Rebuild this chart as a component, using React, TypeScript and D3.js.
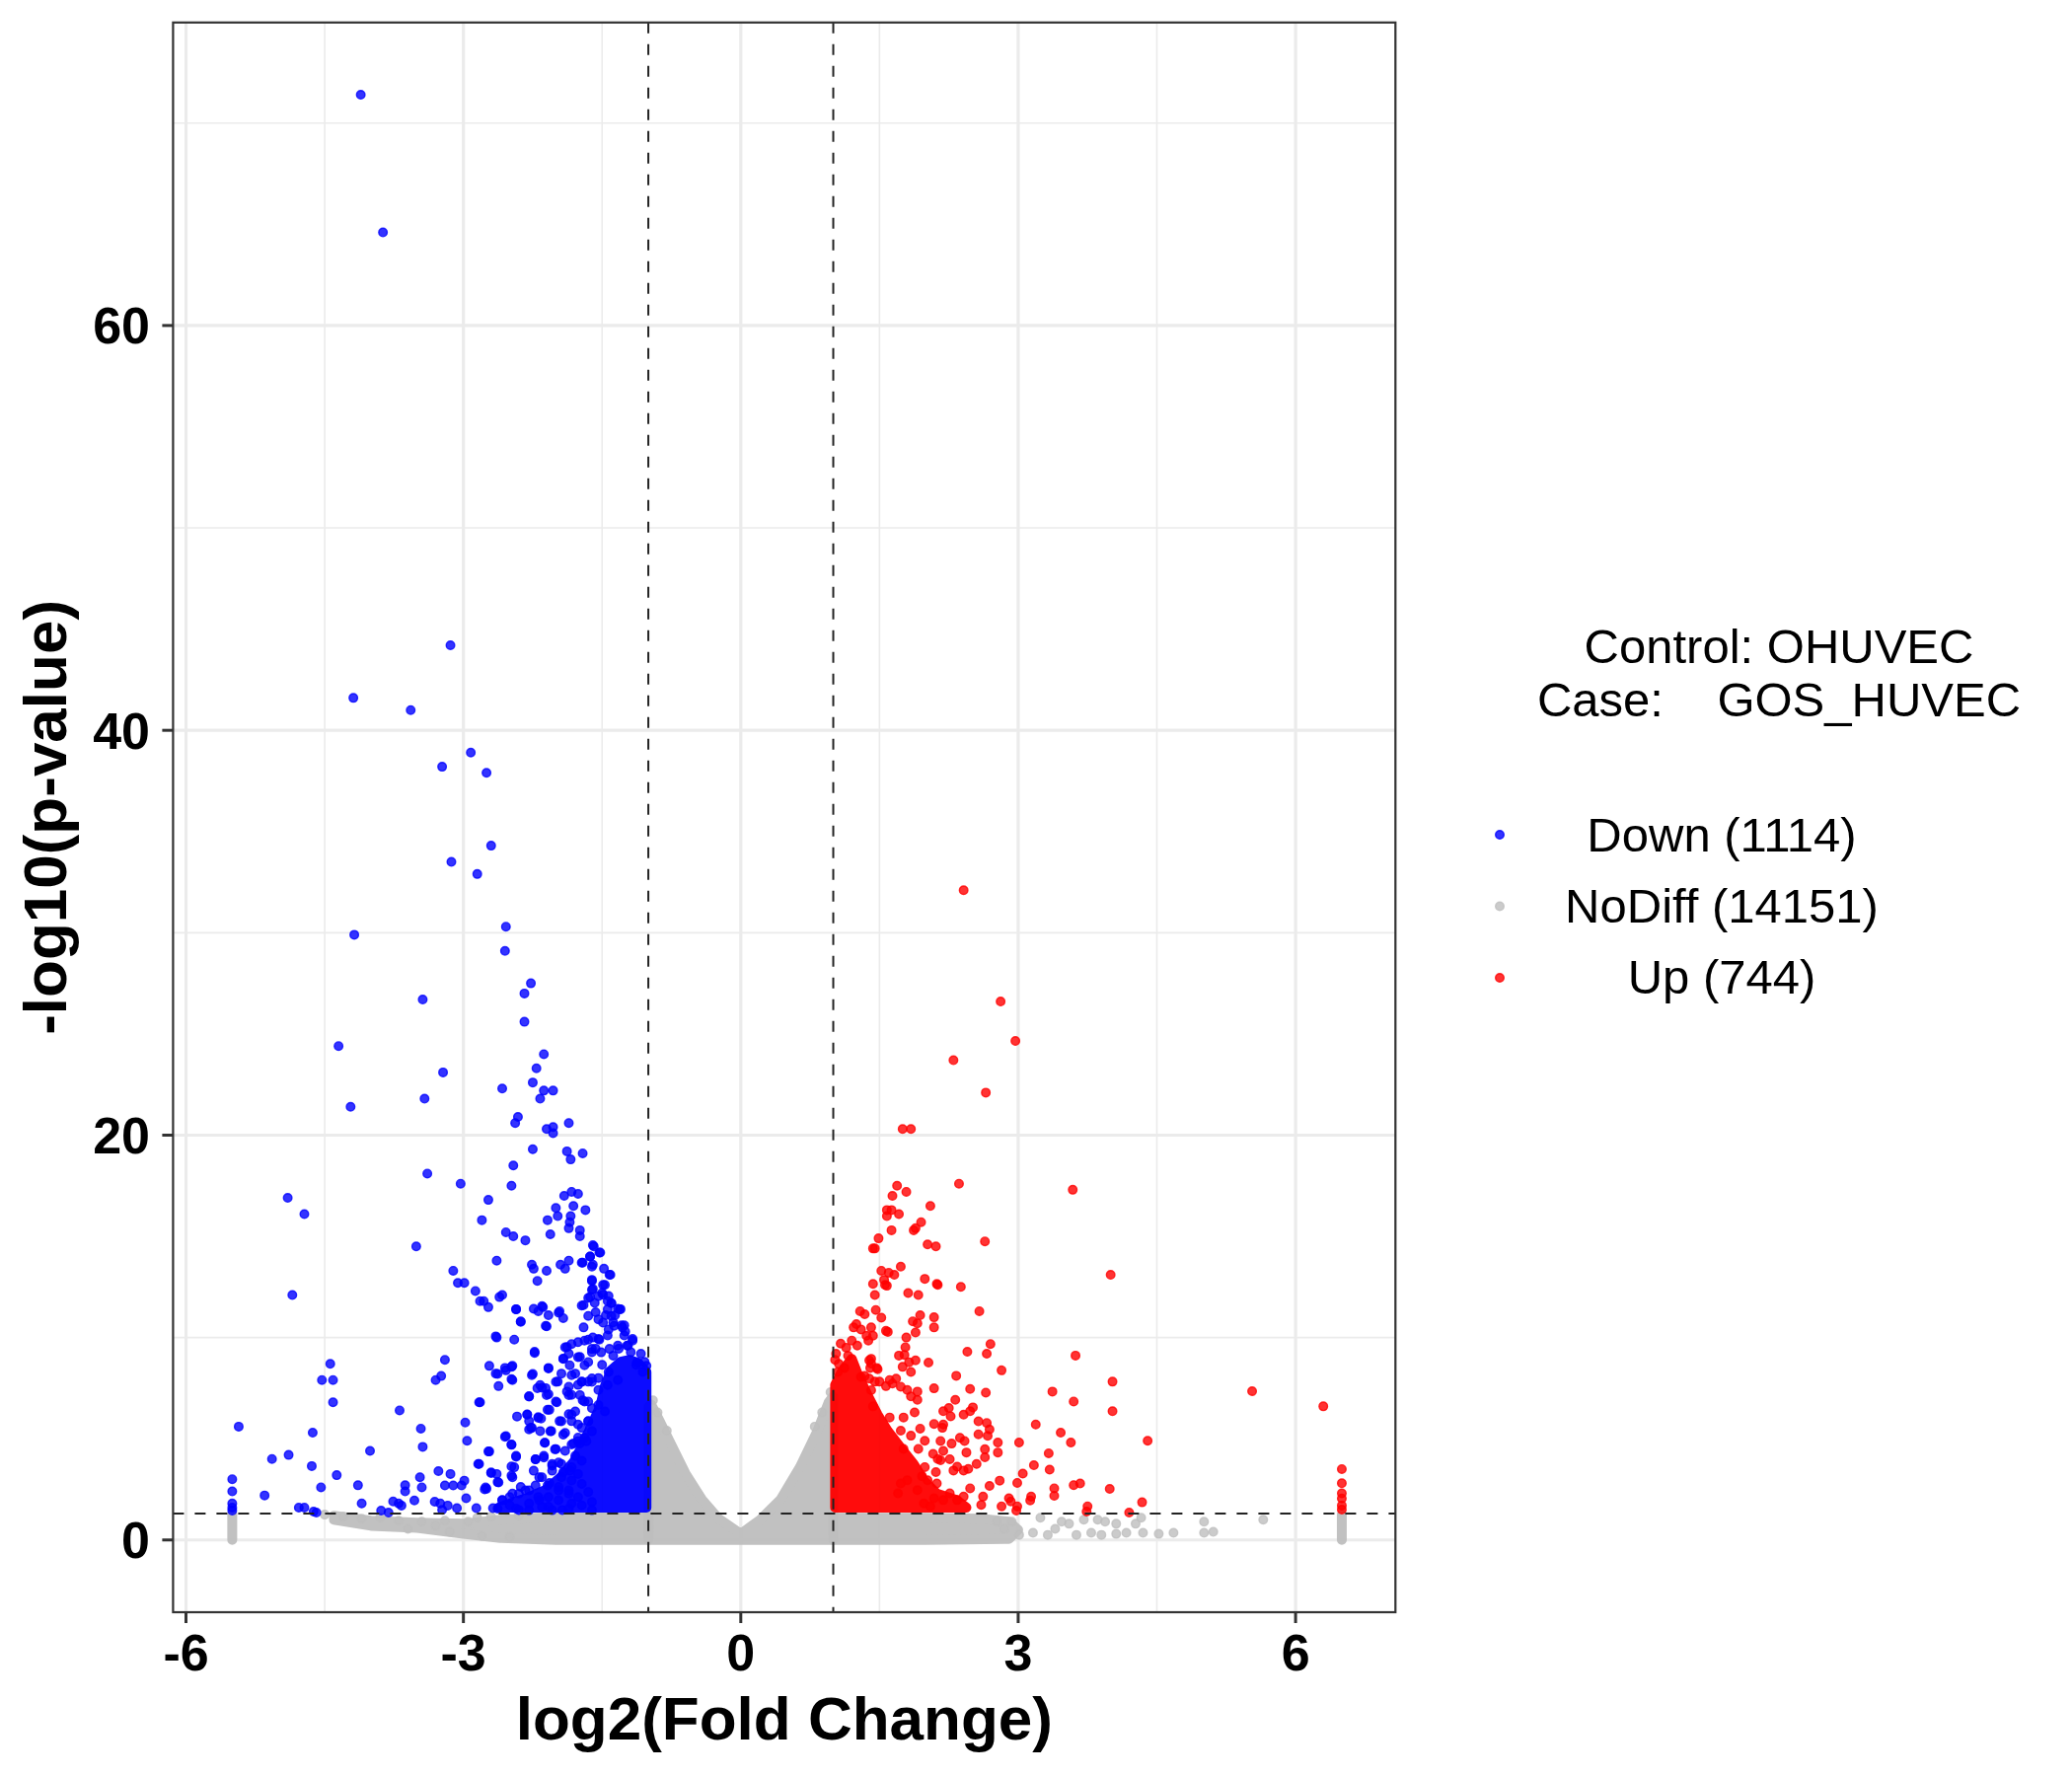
import React, { useRef, useEffect } from "react";
import * as d3 from "d3";

type Pt = [number, number];

// axis ticks
const xMajor = [-6, -3, 0, 3, 6];
const xMinor = [-4.5, -1.5, 1.5, 4.5];
const yMajor = [0, 20, 40, 60];
const yMinor = [10, 30, 50, 70];

// cut-offs
const fcCut = [-1, 1];
const pCut = 1.301;

const legendTitle = ["Control: OHUVEC", "Case:    GOS_HUVEC"];
const groups = ["Down (1114)", "NoDiff (14151)", "Up (744)"];
const groupColors = ["#0000FF", "#BEBEBE", "#FF0000"];

// dense cores (outline of the packed point centres)
const noDiffCores: Pt[][] = [
  [[-1.0, 0], [-1.0, 6.6], [-0.97, 6.7], [-0.88, 5.9], [-0.74, 4.6], [-0.6, 3.3], [-0.42, 2.0], [-0.24, 1.05], [0, 0.3],
   [0.21, 1.0], [0.43, 2.0], [0.64, 3.6], [0.82, 5.3], [0.95, 6.8], [1.0, 7.1], [1.0, 0]],
  [[-4.4, 1.2], [-4.0, 0.95], [-3.5, 0.85], [-3.0, 0.8], [-2.6, 1.0], [-2.0, 1.15], [-1.0, 1.15],
   [-1.0, 0], [-2.0, 0], [-2.6, 0.1], [-3.0, 0.3], [-3.5, 0.6], [-4.0, 0.7], [-4.4, 1.0]],
  [[1.0, 1.1], [2.0, 1.1], [2.6, 1.05], [2.9, 0.9], [3.0, 0.5], [2.9, 0.05], [2.0, 0], [1.0, 0]],
  [[-5.5, 0], [-5.5, 1.25]],
  [[6.5, 0], [6.5, 1.25]],
];
const downCore: Pt[] = [[-1.02, 1.6], [-1.02, 8.3], [-1.1, 8.7], [-1.2, 8.9], [-1.3, 8.8], [-1.4, 8.4], [-1.47, 7.6],
  [-1.52, 6.6], [-1.6, 5.8], [-1.7, 4.8], [-1.8, 3.9], [-1.95, 3.1], [-2.1, 2.5], [-2.3, 2.1], [-2.5, 1.8], [-2.62, 1.6]];
const upCore: Pt[] = [[1.02, 1.6], [1.02, 7.65], [1.09, 8.3], [1.2, 8.95], [1.27, 8.14], [1.37, 7.17], [1.48, 6.19],
  [1.59, 5.38], [1.73, 4.56], [1.87, 3.75], [1.98, 2.94], [2.12, 2.29], [2.34, 1.96], [2.44, 1.6]];

const noDiffPoints: Pt[] = [
  [-4.5, 1.25], [-4.3, 1.15], [-4.1, 1.05], [-3.9, 1.1], [-3.7, 0.95], [-3.45, 0.9], [-3.3, 0.7], [-3.2, 0.95],
  [-2.95, 0.9], [-2.85, 1.1], [-2.7, 1.15], [-2.4, 1.2], [-3.6, 0.55], [-3.15, 0.4], [-2.8, 0.2], [-2.5, 0.15],
  [3.24, 1.1], [3.47, 0.9], [3.71, 1.0], [3.86, 1.0], [3.94, 0.9], [4.06, 0.8], [4.17, 0.35], [4.27, 0.8],
  [4.33, 1.1], [4.35, 0.35], [4.52, 0.3], [4.68, 0.35], [5.01, 0.9], [5.01, 0.35], [5.11, 0.4], [5.65, 1.0],
  [3.16, 0.35], [3.32, 0.25], [3.63, 0.25], [3.79, 0.35], [3.9, 0.25], [4.06, 0.3], [3.55, 0.8], [3.4, 0.55],
  [2.93, 0.9], [3.01, 0.25], [2.85, 0.55], [2.77, 0.9],
  [-0.95, 6.9], [-0.9, 6.3], [-0.8, 5.4], [0.88, 6.3], [0.97, 7.3], [0.8, 5.6],
];

const downPoints: Pt[] = [
  [-4.11, 71.4], [-3.87, 64.6], [-3.14, 44.2], [-4.19, 41.6], [-3.57, 41.0], [-2.92, 38.9], [-3.23, 38.2], [-2.75, 37.9],
  [-2.70, 34.3], [-3.13, 33.5], [-2.85, 32.9], [-2.54, 30.3], [-4.18, 29.9], [-2.55, 29.1], [-2.27, 27.5], [-2.34, 27.0],
  [-3.44, 26.7], [-2.34, 25.6], [-4.35, 24.4], [-2.13, 24.0], [-2.21, 23.3], [-3.22, 23.1], [-2.25, 22.6], [-2.58, 22.3],
  [-2.03, 22.2], [-2.13, 22.2], [-2.17, 21.8], [-3.42, 21.8], [-4.22, 21.4], [-2.41, 20.9], [-2.44, 20.6], [-1.86, 20.6],
  [-2.10, 20.3], [-2.03, 20.4], [-2.03, 20.1], [-2.25, 19.3], [-1.88, 19.2], [-1.84, 18.8], [-1.71, 19.1], [-2.46, 18.5],
  [-3.39, 18.1], [-3.03, 17.6], [-2.48, 17.5], [-4.90, 16.9], [-2.73, 16.8], [-1.91, 17.0], [-1.83, 17.2], [-1.76, 17.1],
  [-2.0, 16.4], [-1.98, 16.0], [-2.09, 15.8], [-1.68, 16.3], [-1.81, 16.5], [-1.84, 16.0], [-1.85, 15.7], [-1.86, 15.4],
  [-4.72, 16.1], [-2.80, 15.8], [-2.54, 15.2], [-2.46, 15.0], [-2.33, 14.8], [-2.06, 15.1], [-1.74, 15.3], [-1.74, 15.0],
  [-3.51, 14.5], [-1.59, 14.5], [-1.52, 14.2], [-1.63, 14.0], [-2.64, 13.8], [-2.26, 13.6], [-2.24, 13.4], [-2.10, 13.3],
  [-2.20, 12.8], [-1.95, 13.6], [-1.86, 13.8], [-1.90, 13.4], [-1.71, 13.7], [-1.61, 13.5], [-1.48, 13.4], [-1.41, 13.1],
  [-1.61, 12.8], [-1.47, 12.6], [-3.11, 13.3], [-3.06, 12.7], [-2.99, 12.7], [-2.87, 12.3], [-2.82, 11.8], [-2.78, 11.8],
  [-2.73, 11.5], [-4.85, 12.1], [-2.61, 12.0], [-2.58, 12.1], [-2.43, 11.4], [-2.38, 10.8], [-2.19, 11.3], [-2.14, 11.5],
  [-2.08, 11.1], [-1.96, 11.3], [-1.92, 10.96], [-2.10, 10.55], [-1.70, 11.6], [-1.63, 12.0], [-1.50, 12.2], [-1.40, 11.7],
  [-1.30, 11.4], [-2.64, 10.0], [-2.45, 9.9], [-2.23, 9.3], [-2.08, 8.5], [-2.72, 8.6], [-2.63, 8.2], [-2.55, 8.5],
  [-2.47, 8.6], [-2.62, 7.6], [-2.47, 7.9], [-3.20, 8.9], [-3.24, 8.1], [-3.30, 7.9], [-4.44, 8.7], [-4.53, 7.9],
  [-4.41, 7.9], [-4.41, 6.8], [-2.25, 8.2], [-2.20, 7.5], [-2.11, 7.5], [-2.08, 7.2], [-2.29, 7.1], [-1.99, 6.8],
  [-2.82, 6.8], [-3.69, 6.4], [-5.43, 5.6], [-4.63, 5.3], [-3.46, 5.5], [-3.44, 4.6], [-2.98, 5.8], [-2.96, 4.9],
  [-2.55, 5.1], [-2.48, 4.7], [-2.72, 4.37], [-2.43, 4.11], [-2.48, 3.63], [-2.83, 3.75], [-2.70, 3.3], [-2.64, 3.26],
  [-2.62, 2.84], [-2.48, 3.18], [-4.01, 4.4], [-5.07, 4.0], [-4.89, 4.2], [-4.64, 3.65], [-4.37, 3.2], [-4.54, 2.6],
  [-5.15, 2.2], [-4.14, 2.7], [-4.10, 1.8], [-4.78, 1.6], [-4.72, 1.6], [-4.62, 1.4], [-4.59, 1.35], [-3.89, 1.45],
  [-3.81, 1.35], [-3.76, 1.9], [-3.70, 1.8], [-3.67, 1.7], [-3.53, 1.95], [-3.63, 2.7], [-3.63, 2.4], [-3.47, 3.1],
  [-3.45, 2.6], [-3.27, 3.4], [-3.14, 3.26], [-2.99, 2.93], [-3.02, 2.69], [-3.11, 2.69], [-3.20, 2.69], [-2.97, 2.06],
  [-3.07, 1.57], [-2.86, 1.57], [-3.31, 1.89], [-3.23, 1.49], [-3.25, 1.8], [-3.17, 1.7], [-2.76, 2.6], [-2.77, 2.5],
  [-5.5, 3.0], [-5.5, 2.4], [-5.5, 1.8], [-5.5, 1.6], [-5.5, 1.45],
  [-2.42, 6.1], [-2.31, 6.2], [-2.29, 5.87], [-2.19, 6.07], [-2.16, 6.0], [-2.29, 5.46], [-2.26, 5.54], [-2.17, 5.38],
  [-2.07, 6.43], [-2.05, 5.38], [-1.96, 5.87], [-1.86, 6.22], [-1.79, 6.35], [-1.83, 5.87], [-1.92, 5.2], [-1.81, 4.77],
  [-1.74, 4.77], [-1.76, 5.06], [-2.12, 4.8], [-2.0, 4.49], [-2.68, 1.57], [-2.58, 1.97], [-2.47, 2.29], [-2.38, 2.62],
  [-2.29, 2.45], [-2.22, 3.98], [-2.13, 4.07], [-2.04, 3.67], [-1.97, 3.83], [-1.92, 3.35], [-1.83, 3.59], [-2.18, 3.1],
  [-2.07, 2.81], [-1.97, 2.62], [-1.86, 2.45], [-2.5, 1.72], [-2.4, 1.48], [-2.29, 1.8], [-2.18, 1.97], [-2.08, 1.64],
  [-1.93, 1.48], [-1.71, 6.9], [-1.65, 7.82], [-1.69, 8.63], [-1.61, 9.28], [-1.54, 9.93], [-1.49, 10.74], [-1.44, 11.39],
  [-1.54, 12.04], [-1.60, 12.4], [-1.40, 11.7], [-1.31, 11.4], [-1.26, 10.6], [-1.17, 9.93], [-1.19, 9.28], [-1.12, 8.79],
  [-1.88, 9.53], [-1.86, 9.2], [-1.76, 9.77], [-1.69, 9.85], [-1.60, 10.0], [-1.92, 8.96], [-1.85, 8.63], [-1.74, 9.04],
  [-1.79, 8.22], [-1.72, 7.82], [-1.61, 7.98], [-1.98, 7.82], [-1.88, 7.33], [-1.83, 7.17], [-1.76, 7.66], [-1.69, 6.84],
  [-1.61, 6.51], [-1.65, 5.87], [-1.72, 5.54], [-1.69, 5.06], [-1.43, 10.4], [-1.38, 10.75], [-1.29, 10.6], [-1.25, 10.3],
  [-1.23, 9.6], [-1.32, 9.45], [-1.13, 8.65], [-1.38, 9.1], [-1.46, 11.1], [-1.57, 11.25], [-1.43, 12.05], [-1.36, 11.1],
  [-1.5, 8.65], [-1.43, 8.3], [-1.54, 8.0], [-1.57, 9.45], [-1.04, 8.8], [-1.08, 9.2], [-1.02, 8.6], [-1.06, 8.3],
  [-1.60, 14.56], [-1.63, 14.0], [-1.53, 14.2], [-1.72, 13.7], [-1.60, 13.6], [-1.42, 13.1], [-1.61, 12.85], [-1.49, 12.6],
  [-1.61, 12.36], [-1.49, 12.12], [-1.65, 11.96], [-1.72, 11.58], [-1.58, 11.71], [-1.44, 11.8], [-1.33, 11.42],
  [-1.65, 11.07], [-1.54, 10.9], [-1.40, 11.07], [-1.37, 10.58], [-1.28, 10.5], [-1.17, 9.85], [-1.26, 10.1], [-1.22, 9.6],
  [-1.70, 10.5], [-1.65, 9.9], [-1.53, 9.9], [-1.44, 10.1], [-1.61, 9.44], [-1.51, 9.27], [-1.42, 9.44], [-1.33, 9.6],
  [-1.90, 9.52], [-1.83, 9.68], [-1.92, 8.95], [-1.76, 9.03], [-1.65, 8.79], [-2.08, 8.47], [-1.94, 8.22], [-1.83, 8.14],
  [-1.72, 7.81], [-1.61, 7.81], [-1.54, 7.41], [-1.44, 7.65], [-1.33, 7.9], [-2.0, 7.81], [-1.86, 7.57], [-1.86, 7.16],
  [-1.74, 7.16], [-1.65, 6.84], [-1.54, 6.67], [-1.47, 6.35], [-2.17, 7.65], [-2.10, 7.16], [-2.0, 6.84], [-2.09, 6.43],
  [-1.94, 5.86], [-1.83, 6.19], [-1.76, 5.7], [-1.65, 5.86], [-1.61, 5.37], [-2.31, 6.19], [-2.27, 5.54], [-2.19, 6.03],
  [-2.06, 5.37], [-1.90, 5.29], [-1.83, 4.72], [-1.76, 4.88], [-1.67, 4.88], [-1.90, 4.4], [-1.79, 4.16], [-1.72, 3.91],
  [-2.54, 5.13], [-2.48, 4.72], [-2.43, 4.16], [-2.12, 4.8], [-2.01, 4.48], [-2.22, 3.99], [-2.13, 4.16], [-2.04, 3.75],
  [-1.94, 3.75], [-1.85, 3.42], [-1.76, 3.26], [-2.45, 3.59], [-2.47, 3.1], [-2.24, 3.42], [-2.15, 3.1], [-2.04, 3.42],
  [-1.94, 3.1], [-1.83, 2.94], [-1.72, 2.77], [-2.70, 3.34], [-2.63, 2.86], [-2.75, 2.53], [-2.22, 2.69], [-2.09, 2.69],
  [-1.97, 2.45], [-1.86, 2.29], [-1.76, 2.12], [-1.65, 2.37], [-2.58, 1.96], [-2.50, 2.12], [-2.40, 2.29], [-2.33, 2.45],
  [-2.19, 2.12], [-2.08, 2.12], [-1.97, 1.96], [-1.83, 1.8], [-1.72, 1.71], [-1.61, 1.88], [-2.63, 1.55], [-2.43, 1.55],
  [-2.29, 1.47], [-2.15, 1.63], [-2.04, 1.47], [-1.86, 1.55], [-1.61, 1.47], [-2.84, 3.75], [-2.73, 4.37], [-2.83, 6.8],
  [-2.65, 8.22], [-2.54, 8.38], [-2.48, 8.55], [-2.48, 7.95], [-2.26, 8.14], [-2.29, 7.08], [-2.15, 7.52], [-2.43, 11.39],
  [-2.38, 10.77], [-2.24, 11.42], [-2.15, 11.55], [-1.97, 11.23], [-2.11, 10.58], [-2.65, 10.06], [-2.23, 9.24],
];

const upPoints: Pt[] = [
  [2.41, 32.1], [2.81, 26.6], [2.97, 24.65], [2.30, 23.7], [2.65, 22.1], [1.75, 20.3], [1.84, 20.3], [1.69, 17.5],
  [1.79, 17.2], [2.36, 17.6], [3.59, 17.3], [1.64, 17.0], [2.05, 16.5], [1.58, 16.3], [1.63, 16.3], [1.58, 16.0],
  [1.71, 16.1], [1.95, 15.7], [1.89, 15.4], [1.87, 15.3], [1.63, 15.3], [1.49, 14.9], [1.43, 14.4], [1.45, 14.4],
  [2.02, 14.6], [2.11, 14.5], [2.64, 14.75], [1.73, 13.5], [1.52, 13.3], [1.60, 13.2], [1.66, 13.1], [1.55, 12.85],
  [1.43, 12.65], [1.56, 12.6], [1.99, 12.9], [2.12, 12.65], [2.38, 12.5], [4.0, 13.1], [1.81, 12.2], [1.92, 12.1],
  [1.45, 12.1], [1.58, 12.56], [2.13, 12.6], [1.29, 11.3], [1.34, 11.15], [1.46, 11.36], [1.52, 10.98], [1.25, 10.66],
  [1.30, 10.4], [1.41, 10.5], [1.36, 10.09], [1.43, 10.09], [1.57, 10.33], [1.59, 10.28], [1.86, 10.8], [1.91, 10.7],
  [1.94, 11.1], [2.09, 11.0], [2.09, 10.5], [1.79, 10.0], [1.89, 10.25], [2.58, 11.3], [1.78, 9.52], [1.71, 9.11],
  [1.77, 9.14], [1.82, 8.78], [1.89, 8.87], [1.84, 8.3], [2.03, 8.76], [1.75, 8.55], [1.39, 8.87], [1.41, 8.71],
  [1.48, 8.43], [1.30, 8.06], [1.39, 7.97], [1.45, 7.82], [1.50, 7.82], [1.61, 7.9], [1.68, 7.97], [1.64, 7.73],
  [1.73, 7.57], [1.80, 7.41], [1.91, 7.33], [1.91, 6.92], [1.84, 7.09], [2.09, 7.49], [2.45, 9.3], [2.66, 9.2],
  [2.70, 9.68], [2.82, 8.38], [2.33, 8.11], [2.48, 7.46], [2.65, 7.28], [3.62, 9.11], [3.37, 7.33], [3.60, 6.84],
  [4.02, 7.82], [4.02, 6.36], [5.53, 7.35], [6.30, 6.6], [4.40, 4.9], [2.32, 6.92], [2.25, 6.52], [2.19, 6.36],
  [2.27, 6.11], [2.41, 6.19], [2.51, 6.55], [2.48, 6.36], [2.09, 5.73], [2.18, 5.54], [2.19, 5.7], [2.16, 4.89],
  [2.19, 4.4], [2.28, 4.76], [2.37, 5.05], [2.42, 4.89], [2.57, 5.86], [2.66, 5.78], [2.69, 5.46], [2.57, 5.22],
  [2.67, 5.14], [3.19, 5.7], [3.46, 5.30], [3.57, 4.81], [3.01, 4.81], [2.78, 4.81], [2.78, 4.32], [2.64, 4.48],
  [2.64, 4.08], [2.44, 4.32], [2.55, 3.75], [2.46, 3.51], [2.26, 3.99], [2.16, 3.94], [2.34, 3.62], [2.41, 3.43],
  [2.30, 3.43], [3.33, 4.28], [3.34, 3.47], [3.17, 3.69], [3.05, 3.28], [2.99, 2.82], [3.14, 2.14], [3.39, 2.55],
  [3.39, 2.18], [3.60, 2.71], [3.67, 2.79], [3.99, 2.52], [3.75, 1.66], [2.99, 1.66], [2.90, 2.06], [2.82, 1.66],
  [2.69, 2.67], [2.80, 2.93], [2.62, 2.14], [2.60, 1.73], [2.48, 2.55], [2.41, 2.14], [2.34, 1.97], [2.26, 2.3],
  [2.19, 1.97], [2.09, 2.06], [2.05, 1.66], [1.98, 1.8], [1.91, 2.46], [1.80, 2.95], [1.73, 2.79], [1.70, 2.3],
  [2.12, 2.79], [2.02, 2.95], [4.34, 1.86], [4.2, 1.35], [3.74, 1.4], [3.13, 1.95], [2.92, 1.9], [2.98, 1.45],
  [6.5, 3.5], [6.5, 2.8], [6.5, 2.3], [6.5, 2.05], [6.5, 1.7], [6.5, 1.5],
  [1.22, 10.5], [1.20, 9.85], [1.14, 9.5], [1.26, 9.6], [1.16, 9.1], [1.06, 8.7], [1.12, 8.5], [1.05, 8.3],
  [1.38, 9.85], [1.41, 8.95], [1.47, 8.5], [1.40, 8.5], [1.34, 8.1], [1.57, 7.6], [1.41, 7.4], [1.43, 6.6],
  [1.61, 6.05], [1.76, 6.05], [1.88, 6.3], [1.73, 5.4], [1.84, 5.15], [1.94, 5.5], [1.99, 4.9], [1.92, 4.5],
  [1.76, 4.5], [2.08, 4.25], [2.13, 4.0], [2.11, 3.35], [1.99, 3.6], [1.96, 3.15], [1.03, 9.2], [1.08, 9.7], [1.02, 8.9],
];

const App: React.FC = () => {
  const svgRef = useRef<SVGSVGElement | null>(null);

  useEffect(() => {
    const width = 2100;
    const height = 1800;
    const panel = { left: 175.4, right: 1414.3, top: 22.8, bottom: 1634 };
    const font = "'Liberation Sans', Arial, sans-serif";
    const r = 4.3;

    const svg = d3.select(svgRef.current);
    svg.selectAll("*").remove();
    svg.attr("width", width).attr("height", height);
    svg.append("rect").attr("width", width).attr("height", height).attr("fill", "#fff");

    const x = d3.scaleLinear().domain([-6.14, 7.08]).range([panel.left, panel.right]);
    const y = d3.scaleLinear().domain([-3.57, 74.97]).range([panel.bottom, panel.top]);

    // grid
    const grid = svg.append("g");
    const vGrid = (vals: number[], w: number) =>
      grid.selectAll(null).data(vals).join("line")
        .attr("x1", (d) => x(d)).attr("x2", (d) => x(d))
        .attr("y1", panel.top).attr("y2", panel.bottom)
        .attr("stroke", "#EBEBEB").attr("stroke-width", w);
    const hGrid = (vals: number[], w: number) =>
      grid.selectAll(null).data(vals).join("line")
        .attr("y1", (d) => y(d)).attr("y2", (d) => y(d))
        .attr("x1", panel.left).attr("x2", panel.right)
        .attr("stroke", "#EBEBEB").attr("stroke-width", w);
    vGrid(xMinor, 1.6);
    hGrid(yMinor, 1.6);
    vGrid(xMajor, 3.2);
    hGrid(yMajor, 3.2);

    const outline = d3.line<Pt>().x((d) => x(d[0])).y((d) => y(d[1])).curve(d3.curveLinearClosed);

    const drawCores = (cores: Pt[][], color: string) =>
      svg.append("g").selectAll("path").data(cores).join("path")
        .attr("d", (d) => outline(d) ?? "")
        .attr("fill", color).attr("stroke", color)
        .attr("stroke-width", 2 * (r + 0.7)).attr("stroke-linejoin", "round")
        .attr("opacity", 0.95);

    const drawPoints = (pts: Pt[], color: string) =>
      svg.append("g").selectAll("circle").data(pts).join("circle")
        .attr("cx", (d) => x(d[0])).attr("cy", (d) => y(d[1])).attr("r", r)
        .attr("fill", color).attr("fill-opacity", 0.8)
        .attr("stroke", color).attr("stroke-opacity", 0.8).attr("stroke-width", 1.4);

    drawCores(noDiffCores, groupColors[1]);
    drawPoints(noDiffPoints, groupColors[1]);
    drawCores([downCore], groupColors[0]);
    drawPoints(downPoints, groupColors[0]);
    drawCores([upCore], groupColors[2]);
    drawPoints(upPoints, groupColors[2]);

    // threshold lines
    svg.append("g").selectAll("line").data(fcCut).join("line")
      .attr("x1", (d) => x(d)).attr("x2", (d) => x(d))
      .attr("y1", panel.top).attr("y2", panel.bottom)
      .attr("stroke", "#222").attr("stroke-width", 2).attr("stroke-dasharray", "11 11");
    svg.append("line")
      .attr("x1", panel.left).attr("x2", panel.right)
      .attr("y1", y(pCut)).attr("y2", y(pCut))
      .attr("stroke", "#222").attr("stroke-width", 2).attr("stroke-dasharray", "11 11");

    // border
    svg.append("rect")
      .attr("x", panel.left).attr("y", panel.top)
      .attr("width", panel.right - panel.left).attr("height", panel.bottom - panel.top)
      .attr("fill", "none").attr("stroke", "#333333").attr("stroke-width", 2.2);

    // x axis
    const xa = svg.append("g");
    xa.selectAll("line").data(xMajor).join("line")
      .attr("x1", (d) => x(d)).attr("x2", (d) => x(d))
      .attr("y1", panel.bottom).attr("y2", panel.bottom + 11)
      .attr("stroke", "#333333").attr("stroke-width", 3);
    xa.selectAll("text").data(xMajor).join("text")
      .attr("x", (d) => x(d)).attr("y", 1693)
      .attr("text-anchor", "middle").attr("font-family", font)
      .attr("font-weight", "bold").attr("font-size", 52).attr("fill", "#000")
      .text((d) => String(d));

    // y axis
    const ya = svg.append("g");
    ya.selectAll("line").data(yMajor).join("line")
      .attr("y1", (d) => y(d)).attr("y2", (d) => y(d))
      .attr("x1", panel.left - 11).attr("x2", panel.left)
      .attr("stroke", "#333333").attr("stroke-width", 3);
    ya.selectAll("text").data(yMajor).join("text")
      .attr("x", 152).attr("y", (d) => y(d) + 18.5)
      .attr("text-anchor", "end").attr("font-family", font)
      .attr("font-weight", "bold").attr("font-size", 52).attr("fill", "#000")
      .text((d) => String(d));

    // axis titles
    svg.append("text")
      .attr("x", (panel.left + panel.right) / 2).attr("y", 1763)
      .attr("text-anchor", "middle").attr("font-family", font)
      .attr("font-weight", "bold").attr("font-size", 62)
      .text("log2(Fold Change)");
    svg.append("text")
      .attr("transform", `translate(67,${(panel.top + panel.bottom) / 2}) rotate(-90)`)
      .attr("text-anchor", "middle").attr("font-family", font)
      .attr("font-weight", "bold").attr("font-size", 62)
      .text("-log10(p-value)");

    // legend
    const lg = svg.append("g").attr("font-family", font).attr("font-size", 49);
    lg.selectAll("text.title").data(legendTitle).join("text")
      .attr("class", "title")
      .attr("x", 1803).attr("y", (_, i) => 671.7 + i * 54.3)
      .attr("text-anchor", "middle").style("white-space", "pre")
      .text((d) => d);
    lg.selectAll("circle").data(groups).join("circle")
      .attr("cx", 1520).attr("cy", (_, i) => 846 + i * 72.5).attr("r", r)
      .attr("fill", (_, i) => groupColors[i]).attr("fill-opacity", 0.8)
      .attr("stroke", (_, i) => groupColors[i]).attr("stroke-opacity", 0.8).attr("stroke-width", 1.4);
    lg.selectAll("text.item").data(groups).join("text")
      .attr("class", "item")
      .attr("x", 1745).attr("y", (_, i) => 863 + i * 72)
      .attr("text-anchor", "middle")
      .text((d) => d);
  }, []);

  return (
    <div>
      <svg ref={svgRef} style={{ position: "absolute", left: 0, top: 0, display: "block" }} />
    </div>
  );
};

export default App;
